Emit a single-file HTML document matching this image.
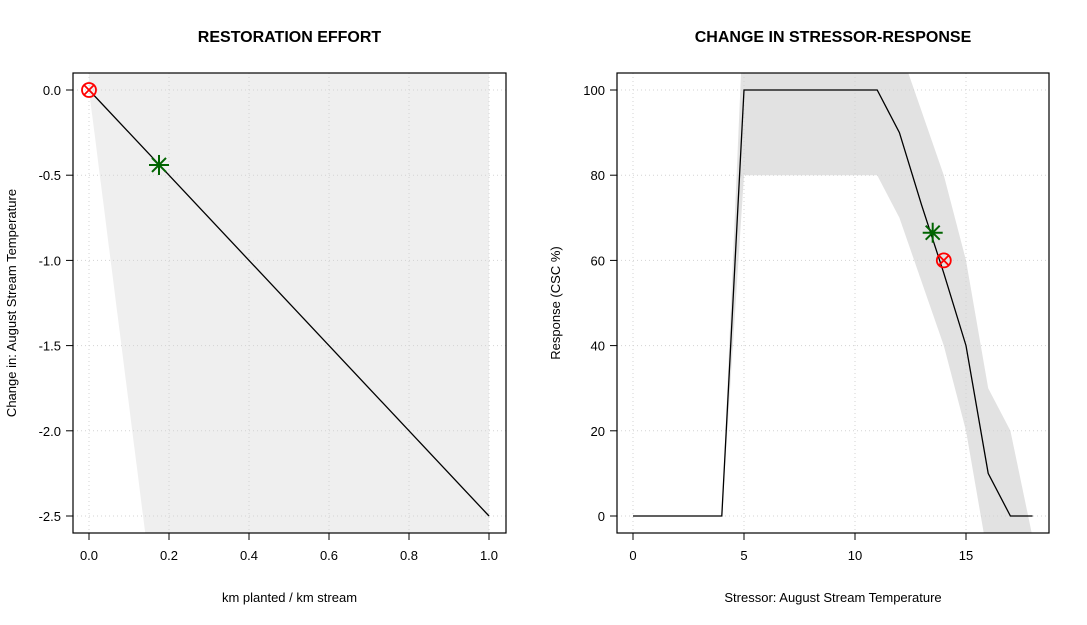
<!DOCTYPE html>
<html><head><meta charset="utf-8"><style>
html,body{margin:0;padding:0;background:#fff;overflow:hidden;width:1087px;height:625px}
svg{display:block}
text{font-family:"Liberation Sans",sans-serif}
</style></head><body>
<svg id="c" width="1087" height="625" xmlns="http://www.w3.org/2000/svg">
<defs>
<clipPath id="clipL"><rect x="73" y="73" width="433" height="460"/></clipPath>
<clipPath id="clipR"><rect x="617" y="73" width="432" height="460"/></clipPath>
</defs>
</svg>
<script>
// Left panel data
const leftXTicks=[0,0.2,0.4,0.6,0.8,1.0];
const leftXTickLabels=["0.0","0.2","0.4","0.6","0.8","1.0"];
const leftYTicks=[0,-0.5,-1,-1.5,-2,-2.5];
const leftYTickLabels=["0.0","-0.5","-1.0","-1.5","-2.0","-2.5"];
const leftLineX=[0,1];
const leftLineY=[0,-2.5];
const leftBandX=[0,1];
const leftBandUpper=[0.5,0.5];
const leftBandLower=[0,-18.5];
const leftCurrent=[0,0];
const leftTarget=[0.175,-0.44];
// Right panel data
const rightXTicks=[0,5,10,15];
const rightYTicks=[0,20,40,60,80,100];
const rightLineX=[0,4,5,11,12,13,14,15,16,17,18];
const rightLineY=[0,0,100,100,90,73,57,40,10,0,0];
const rightBandX=[4,5,11,12,13,14,15,16,17,18];
const rightBandUpper=[0,120,120,110,95,80,60,30,20,-5];
const rightBandLower=[0,80,80,70,55,40,20,-10,-10,-10];
const rightCurrent=[14,60];
const rightTarget=[13.5,66.5];

const svg=document.getElementById('c');
const NS='http://www.w3.org/2000/svg';
function mk(tag,attrs,parent){const e=document.createElementNS(NS,tag);for(const k in attrs)e.setAttribute(k,attrs[k]);(parent||svg).appendChild(e);return e;}

function panel(o){
  const sx=v=>o.x0+(v-o.xmin)*(o.x1-o.x0)/(o.xmax-o.xmin);
  const sy=v=>o.y0+(v-o.ymin)*(o.y1-o.y0)/(o.ymax-o.ymin);
  const g=mk('g',{});
  
  
  const cg=mk('g',{'clip-path':'url(#'+o.clip+')'},g);
  let pts=[];
  o.bx.forEach((x,i)=>pts.push(sx(x)+','+sy(o.bu[i])));
  for(let i=o.bx.length-1;i>=0;i--)pts.push(sx(o.bx[i])+','+sy(o.bl[i]));
  const band=mk('polygon',{points:pts.join(' '),fill:o.bandColor},cg);
  
  
  o.xt.forEach(t=>{const l=mk('line',{x1:sx(t),x2:sx(t),y1:o.bt,y2:o.bb,stroke:'#d3d3d3','stroke-dasharray':'1,3'},g);
    });
  o.yt.forEach(t=>{const l=mk('line',{x1:o.bl_,x2:o.br,y1:sy(t),y2:sy(t),stroke:'#d3d3d3','stroke-dasharray':'1,3'},g);
    });
  const cg2=mk('g',{'clip-path':'url(#'+o.clip+')'},g);
  const lp=o.lx.map((x,i)=>sx(x)+','+sy(o.ly[i])).join(' ');
  const ln=mk('polyline',{points:lp,fill:'none',stroke:'#000','stroke-width':1.3},cg2);
  
  
  const bx=mk('rect',{x:o.bl_,y:o.bt,width:o.br-o.bl_,height:o.bb-o.bt,fill:'none',stroke:'#000','stroke-width':1.2},g);
  
  o.xt.forEach((t,i)=>{mk('line',{x1:sx(t),x2:sx(t),y1:o.bb,y2:o.bb+7,stroke:'#000'},g);
    const tx=mk('text',{x:sx(t),y:o.bb+27,'text-anchor':'middle','font-size':13},g);tx.textContent=o.xl[i];
    });
  o.yt.forEach((t,i)=>{mk('line',{x1:o.bl_-7,x2:o.bl_,y1:sy(t),y2:sy(t),stroke:'#000'},g);
    const tx=mk('text',{x:o.bl_-12,y:sy(t)+5,'text-anchor':'end','font-size':13},g);tx.textContent=o.yl[i];
    });
  const cx=sx(o.cur[0]),cy=sy(o.cur[1]);
  const cm=mk('g',{stroke:'#ff0000','stroke-width':1.8,fill:'none'},g);
  
  mk('circle',{cx:cx,cy:cy,r:7},cm);
  mk('line',{x1:cx-5,y1:cy-5,x2:cx+5,y2:cy+5},cm);
  mk('line',{x1:cx-5,y1:cy+5,x2:cx+5,y2:cy-5},cm);
  const tx_=sx(o.tar[0]),ty_=sy(o.tar[1]);
  const tm=mk('g',{stroke:'#006400','stroke-width':2,fill:'none'},g);
  
  mk('line',{x1:tx_-10,y1:ty_,x2:tx_+10,y2:ty_},tm);
  mk('line',{x1:tx_,y1:ty_-10,x2:tx_,y2:ty_+10},tm);
  mk('line',{x1:tx_-7,y1:ty_-7,x2:tx_+7,y2:ty_+7},tm);
  mk('line',{x1:tx_-7,y1:ty_+7,x2:tx_+7,y2:ty_-7},tm);
  const cxm=(o.bl_+o.br)/2;
  const ti=mk('text',{x:cxm,y:42,'text-anchor':'middle','font-size':16,'font-weight':'bold'},g);ti.textContent=o.title;
  
  const xa=mk('text',{x:cxm,y:602,'text-anchor':'middle','font-size':13},g);xa.textContent=o.xtitle;
  
  const ya=mk('text',{x:0,y:0,'text-anchor':'middle','font-size':13,transform:'translate('+o.ytx+','+(o.bt+o.bb)/2+') rotate(-90)'},g);ya.textContent=o.ytitle;
  
}
panel({name:'restoration-effort-panel',clip:'clipL',x0:89,x1:489,xmin:0,xmax:1,y0:90,y1:516,ymin:0,ymax:-2.5,
  bl_:73,br:506,bt:73,bb:533,xt:leftXTicks,xl:leftXTickLabels,yt:leftYTicks,yl:leftYTickLabels,
  bx:leftBandX,bu:leftBandUpper,bl:leftBandLower,lx:leftLineX,ly:leftLineY,cur:leftCurrent,tar:leftTarget,bandColor:'#efefef',
  title:'RESTORATION EFFORT',xtitle:'km planted / km stream',ytitle:'Change in: August Stream Temperature',ytx:16});
panel({name:'stressor-response-panel',clip:'clipR',x0:633,x1:966,xmin:0,xmax:15,y0:516,y1:90,ymin:0,ymax:100,
  bl_:617,br:1049,bt:73,bb:533,xt:rightXTicks,xl:rightXTicks.map(String),yt:rightYTicks,yl:rightYTicks.map(String),
  bx:rightBandX,bu:rightBandUpper,bl:rightBandLower,lx:rightLineX,ly:rightLineY,cur:rightCurrent,tar:rightTarget,bandColor:'#e2e2e2',
  title:'CHANGE IN STRESSOR-RESPONSE',xtitle:'Stressor: August Stream Temperature',ytitle:'Response (CSC %)',ytx:560});
</script>
</body></html>
